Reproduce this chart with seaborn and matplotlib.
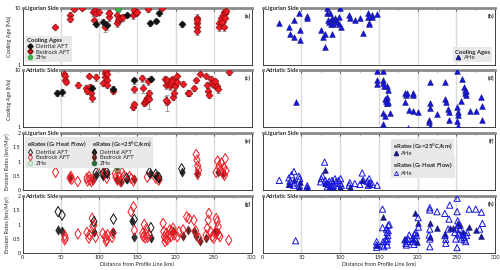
import numpy as np
import pandas as pd
import seaborn as sns
import matplotlib.pyplot as plt
from matplotlib.lines import Line2D
from matplotlib.ticker import LogLocator, NullFormatter, MultipleLocator, FixedLocator

sns.set_theme(style="white")
plt.rcParams['font.family'] = ['Lato', 'DejaVu Sans']
plt.rcParams['font.size'] = 3.8
plt.rcParams['mathtext.default'] = 'regular'

# ---------------- Panel (a) Ligurian cooling ages ----------------
a_det_x = [96.2, 105.7, 110.0, 136.5, 165.9, 174.2, 178.5, 208.0]
a_det_y = [5.2, 5.7, 5.0, 7.5, 5.4, 6.0, 8.1, 5.2]
a_det_err = [0.5, 0.8, 0.9, 0.6, 0.5, 0.5, 0.7, 0.5]
a_bed_x = [42.9, 62.4, 62.4, 66.7, 77.5, 91.8, 93.1, 94.9, 96.2, 99.2, 108.3, 112.6, 113.5, 112.6,
           123.0, 123.9, 124.8, 126.5, 129.1, 130.8, 143.8, 146.0, 148.2, 149.5, 163.8, 182.0,
           227.5, 228.4, 228.4, 227.5, 228.4, 256.6, 257.4, 260.0, 260.9, 261.8, 263.1, 264.4,
           265.3, 263.6, 266.2]
a_bed_y = [4.7, 7.55, 6.4, 9.6, 9.9, 8.6, 6.3, 9.2, 8.1, 8.6, 4.7, 8.1, 6.9, 8.3,
           5.4, 7.55, 6.15, 6.6, 6.6, 6.9, 7.55, 9.2, 8.3, 8.6, 9.6, 9.9,
           6.6, 5.5, 4.7, 3.95, 6.15, 5.4, 4.7, 6.6, 5.75, 7.55, 8.6, 8.3,
           6.6, 4.7, 9.0]
a_bed_err = [0.4, 1.0, 0.8, 0.7, 0.6, 1.2, 1.0, 1.1, 0.9, 1.0, 0.9, 1.0, 0.9, 1.0,
             0.8, 1.6, 1.2, 0.9, 0.9, 0.9, 1.0, 1.0, 1.0, 0.9, 0.9, 0.8,
             1.4, 1.2, 1.0, 0.6, 1.2, 0.9, 0.8, 1.0, 1.0, 1.1, 1.0, 1.0,
             1.0, 0.8, 1.0]
a_zhe_x = [124.8]
a_zhe_y = [9.5]
a_zhe_err = [0.8]

# ---------------- Panel (b) Ligurian AHe ----------------
b_x = [21.4, 33.9, 35.2, 40.3, 40.3, 46.8, 47.7, 47.7, 57.5, 57.5, 74.7, 78.2, 79.9, 80.3,
       82.9, 82.9, 83.7, 85.0, 86.8, 87.6, 88.5, 89.4, 89.4, 90.2, 93.2, 94.5, 96.2, 97.9,
       98.8, 100.1, 100.5, 111.6, 112.5, 118.9, 125.4, 128.8, 135.3, 136.1, 136.6, 137.4,
       140.4, 141.3, 147.7]
b_y = [5.4, 4.6, 3.45, 6.15, 3.14, 8.25, 4.2, 2.74, 7.3, 6.8, 4.2, 3.06, 3.45, 2.04,
       9.9, 8.1, 6.15, 5.75, 8.1, 6.15, 5.25, 6.6, 3.5, 5.25, 6.6, 6.15, 5.7, 7.0,
       5.25, 9.9, 4.7, 7.55, 6.6, 6.15, 6.6, 3.7, 8.1, 7.0, 5.4, 5.25,
       7.55, 7.0, 7.75]

# ---------------- Panel (c) Adriatic cooling ages ----------------
c_det_x = [45.0, 51.5, 91.0, 117.8, 146.0, 167.7]
c_det_y = [4.1, 4.2, 4.9, 4.8, 6.7, 7.2]
c_det_err = [0.5, 0.6, 0.7, 0.6, 0.8, 0.7]
c_bed_x = [54.0, 55.0, 55.0, 56.0, 72.3, 83.2, 84.5, 86.6, 88.4, 89.7, 91.0, 96.2, 104.8,
           107.4, 108.3, 109.2, 110.0, 110.9, 110.0, 117.8, 143.8, 145.6, 146.0, 156.0,
           156.8, 159.0, 160.3, 161.2, 162.5, 163.8, 164.7, 165.6, 163.8, 186.0, 187.2,
           188.5, 189.4, 187.2, 191.5, 192.4, 193.7, 195.0, 195.9, 196.7, 198.0, 199.4,
           202.4, 202.4, 210.0, 215.8, 217.5, 224.0, 226.3, 231.5, 240.0, 241.4, 242.3,
           243.6, 247.0, 247.7, 250.0, 252.2, 254.4, 255.7, 269.6]
c_bed_y = [8.8, 7.9, 6.9, 6.4, 5.6, 4.9, 4.45, 8.1, 5.1, 4.1, 3.25, 7.6, 6.0,
           7.7, 9.1, 9.9, 6.7, 8.5, 5.6, 4.3, 2.3, 2.55, 4.7, 7.4,
           4.9, 2.65, 2.83, 3.03, 3.25, 3.48, 4.0, 3.12, 6.45, 7.1, 5.6,
           2.83, 6.7, 3.03, 5.8, 5.25, 5.9, 7.1, 6.45, 3.48, 4.0, 5.25,
           7.9, 6.2, 5.9, 4.1, 4.1, 4.9, 6.7, 8.8, 8.1, 5.6, 4.3,
           3.73, 7.1, 6.0, 5.6, 6.45, 5.25, 4.7, 9.3]
c_bed_err = [0.8, 0.8, 0.7, 0.6, 0.7, 0.6, 0.6, 0.7, 0.6, 0.5, 0.4, 1.0, 0.6,
             0.8, 0.9, 0.9, 0.8, 0.8, 0.6, 0.5, 0.25, 0.3, 0.6, 1.0,
             0.9, 0.3, 0.35, 0.4, 0.5, 0.5, 0.6, 1.0, 0.8, 0.8, 0.8,
             0.9, 0.8, 0.6, 0.7, 0.7, 0.8, 0.7, 0.8, 0.4, 0.5, 0.6,
             0.9, 0.7, 0.6, 0.5, 0.5, 0.5, 0.7, 0.6, 0.7, 0.7, 0.6,
             0.5, 0.8, 0.8, 0.7, 0.7, 0.7, 0.7, 1.0]

# ---------------- Panel (d) Adriatic AHe ----------------
d_x = [42.5, 147.3, 147.3, 147.3, 154.6, 154.6, 155.4, 156.3, 161.0, 161.5, 160.6, 162.0,
       159.8, 157.7, 159.0, 161.0, 155.4, 157.7, 155.4, 164.5, 183.4, 185.5, 186.4, 184.0,
       193.3, 194.1, 189.0, 194.1, 200.3, 188.0, 215.6, 215.6, 215.6, 214.8, 214.8, 215.6,
       225.0, 235.0, 235.3, 236.2, 238.8, 241.0, 241.0, 250.8, 250.8, 251.7, 252.0, 250.8,
       252.6, 255.5, 257.7, 259.4, 260.7, 261.6, 262.0, 262.9, 267.2, 275.8, 281.4, 283.5,
       283.5]
d_y = [2.8, 9.7, 6.9, 5.9, 9.7, 6.9, 6.0, 5.25, 5.4, 4.6, 3.4, 2.8,
       2.65, 3.1, 2.9, 2.65, 1.8, 1.57, 1.13, 1.76, 4.0, 3.7, 4.0, 2.8,
       4.0, 3.7, 2.0, 1.95, 1.88, 0.98, 6.2, 2.72, 2.16, 1.37, 1.25, 1.01,
       1.69, 6.2, 3.1, 2.85, 2.07, 1.88, 1.33, 9.9, 2.3, 1.88, 1.64, 1.28,
       1.04, 2.95, 7.2, 5.1, 4.5, 4.0, 3.7, 4.3, 1.95, 1.95, 3.4, 2.4,
       1.33]

# ---------------- Panel (e) Ligurian erosion rates ----------------
e_bed_hf_x = [43, 62, 63, 64, 72, 84, 85, 87, 88, 90, 92, 104, 107, 110, 121, 122, 124, 126,
              128, 130, 132, 140, 142, 145, 163, 174, 178, 227, 228, 229, 230, 229, 253, 255,
              257, 259, 260, 262, 263, 265, 266, 264]
e_bed_hf_y = [0.62, 0.42, 0.48, 0.38, 0.3, 0.42, 0.32, 0.48, 0.36, 0.3, 0.38, 0.75, 0.6, 0.42,
              0.58, 0.45, 0.35, 0.52, 0.3, 0.62, 0.48, 0.48, 0.4, 0.32, 0.45, 0.42, 0.35, 1.25,
              1.05, 0.85, 0.7, 0.55, 0.62, 1.02, 0.85, 0.7, 0.95, 0.6, 0.78, 1.1, 0.68, 0.52]
e_det_hf_x = [96, 105, 110, 136, 166, 174, 178, 208]
e_det_hf_y = [0.62, 0.58, 0.63, 0.42, 0.62, 0.55, 0.45, 0.75]
e_det_g_x = [96, 105, 110, 136, 166, 174, 178, 208]
e_det_g_y = [0.52, 0.5, 0.55, 0.38, 0.55, 0.48, 0.38, 0.62]
e_bed_g_x = [62, 92, 107, 124, 128, 146, 228, 255, 262]
e_bed_g_y = [0.42, 0.35, 0.55, 0.4, 0.3, 0.38, 0.6, 0.62, 0.58]
e_zhe_hf_x = [124]
e_zhe_hf_y = [0.75]
e_zhe_g_x = [124]
e_zhe_g_y = [0.7]

# ---------------- Panel (f) Ligurian AHe erosion rates ----------------
f_hf_x = [21.4, 33.9, 35.2, 34.5, 37.3, 40.3, 40.7, 39.9, 46.8, 47.7, 47.3, 57.5, 57.5,
          74.7, 75.6, 77.3, 79.9, 80.8, 82.5, 83.3, 85.0, 85.9, 87.6, 89.4, 90.2, 91.1, 93.2,
          94.5, 96.2, 97.9, 99.7, 100.5, 101.4, 111.6, 112.5, 118.9, 125.4, 128.4, 129.7,
          134.8, 136.1, 137.4, 138.3, 141.3, 147.7]
f_hf_y = [0.34, 0.43, 0.31, 0.2, 0.54, 0.65, 0.25, 0.17, 0.49, 0.4, 0.15, 0.15, 0.08,
          0.29, 0.4, 0.49, 0.98, 0.34, 0.23, 0.11, 0.2, 0.31, 0.11, 0.34, 0.26, 0.15, 0.4,
          0.29, 0.08, 0.34, 0.23, 0.4, 0.17, 0.17, 0.26, 0.23, 0.2, 0.6, 0.34,
          0.31, 0.17, 0.4, 0.26, 0.2, 0.17]
f_g_x = [34.5, 40.7, 46.8, 47.7, 57.5, 79.9, 80.8, 85.0, 91.1, 99.7, 112.5, 128.4, 137.4]
f_g_y = [0.2, 0.34, 0.11, 0.29, 0.06, 0.71, 0.26, 0.11, 0.08, 0.11, 0.11, 0.34, 0.23]

# ---------------- Panel (g) Adriatic erosion rates ----------------
g_det_hf_x = [46.3, 51.5, 93.2, 118.7, 146.0, 167.7]
g_det_hf_y = [1.45, 1.33, 1.1, 1.19, 1.18, 0.89]
g_det_g_x = [46.3, 51.5, 93.2, 118.7, 142.5, 146.0, 167.7]
g_det_g_y = [0.8, 0.78, 0.72, 0.75, 1.12, 0.55, 0.52]
g_bed_hf_x = [55.0, 55.7, 55.0, 72.3, 84.0, 86.6, 87.4, 91.0, 91.8, 93.1, 95.3,
              104.8, 108.3, 109.2, 110.0, 110.9, 117.0, 117.8, 141.7, 144.9, 146.0,
              157.0, 157.8, 159.1, 160.3, 161.2, 162.1, 163.4, 165.6,
              183.7, 184.6, 185.4, 186.3, 187.2, 188.0, 189.4, 191.5, 192.4, 193.7, 195.0,
              196.7, 198.0, 202.4, 204.6, 209.8, 214.5, 217.6, 224.0, 226.3, 230.5,
              240.0, 241.4, 242.7, 243.6, 245.8, 248.0, 250.0, 251.5, 253.2, 254.5, 255.8,
              256.6, 258.0, 269.6]
g_bed_hf_y = [0.61, 0.52, 0.46, 0.67, 0.72, 0.52, 0.64, 1.22, 0.93, 0.98, 0.55,
              0.69, 0.58, 0.41, 0.47, 0.64, 0.55, 0.69, 1.45, 1.62, 0.8,
              0.69, 0.58, 1.0, 0.53, 0.66, 0.86, 0.55, 0.64,
              1.04, 0.75, 0.57, 0.4, 0.52, 0.69, 0.46, 0.63, 0.81, 0.57, 0.75,
              0.87, 0.63, 0.57, 0.75, 0.81, 1.27, 1.21, 1.15, 0.78, 0.52,
              0.63, 0.87, 1.15, 1.39, 0.75, 0.57, 0.52, 0.69, 1.21, 1.1, 0.93,
              0.65, 0.57, 0.45]
g_bed_g_x = [196.0, 209.8, 216.0, 224.0, 226.3, 232.0, 240.0, 252.0, 254.5]
g_bed_g_y = [0.78, 0.6, 0.8, 0.78, 0.6, 0.43, 0.52, 0.78, 0.72]

# ---------------- Panel (h) Adriatic AHe erosion rates ----------------
h_hf_x = [42.5, 147.0, 147.0, 147.0, 154.6, 154.6, 155.4, 154.6, 156.3,
          159.8, 160.6, 161.5, 159.0, 159.8, 160.6, 162.0, 163.3, 162.0, 161.0,
          183.4, 184.7, 185.5, 186.4, 187.7, 189.0, 193.3, 194.1, 195.0, 195.9, 197.1, 197.6,
          198.5, 200.6, 201.0,
          215.6, 215.6, 215.6, 214.8, 215.6, 215.6, 225.0, 235.0, 235.0, 236.2, 236.2, 239.2,
          241.3, 240.4,
          247.8, 249.1, 250.0, 250.8, 250.8, 250.8, 251.7, 252.1, 253.0, 254.3, 255.1, 256.4,
          258.5, 259.8, 260.7, 262.0, 262.9, 263.7, 266.3, 274.9, 280.0, 282.2, 283.5]
h_hf_y = [0.43, 0.4, 0.28, 0.2, 1.54, 0.89, 0.4, 0.28, 0.22,
          0.84, 0.72, 0.61, 0.49, 0.4, 0.28, 0.98, 1.0, 0.78, 0.49,
          0.46, 0.34, 0.28, 0.4, 0.49, 0.63, 0.49, 0.4, 0.3, 0.67, 0.46, 0.72,
          0.61, 1.24, 0.91,
          1.59, 1.51, 0.84, 0.63, 0.49, 0.22, 1.45, 1.39, 0.61, 0.48, 0.34, 0.84,
          1.68, 1.19,
          0.72, 0.49, 0.84, 1.92, 1.45, 0.19, 1.13, 0.96, 0.67, 0.84, 0.63, 0.49,
          0.67, 0.55, 0.46, 0.4, 0.61, 0.72, 1.54, 1.54, 0.84, 1.43, 1.04]
h_g_x = [147.0, 154.6, 183.4, 194.1, 196.3, 198.5, 200.6, 215.6, 215.6, 225.0, 235.0,
         241.3, 245.5, 252.1, 254.3, 258.5, 266.3, 274.9, 282.2]
h_g_y = [0.28, 1.25, 0.49, 0.49, 1.39, 0.4, 1.04, 1.07, 0.55, 0.87, 0.67,
         0.87, 0.87, 1.07, 0.98, 0.75, 0.92, 0.79, 0.6]

# ---------------- colours ----------------
RED = '#ee1c24'
RED_EDGE = '#7a0000'
BLK = '#111111'
GRN = '#3cb34a'
BLUE = '#1515e0'
NAVY = '#1a1a80'
DRED = '#6b2424'
DGRN = '#2f6b3a'
LGRN = '#7fd08a'
GRID = '#dadada'
LEGBG = '#e8e8e8'

FS_TICK = 4.0
FS_LAB = 4.0
FS_SIDE = 4.2
FS_LEG = 4.2
FS_TTL = 4.3

fig = plt.figure(figsize=(5, 2.7), dpi=100)
Lx, Lw = 0.0454, 0.4586
Rx, Rw = 0.5254, 0.465
rows = [0.759, 0.528, 0.296, 0.063]
H = 0.211
axes = {}
for i, (ll, rr) in enumerate([('a', 'b'), ('c', 'd'), ('e', 'f'), ('g', 'h')]):
    axes[ll] = fig.add_axes([Lx, rows[i], Lw, H])
    axes[rr] = fig.add_axes([Rx, rows[i], Rw, H])


def style(ax, label, side, log, bottom, left):
    ax.set_xlim(0, 300)
    if log:
        ax.set_yscale('log')
        ax.set_ylim(1, 10)
        ax.yaxis.set_major_locator(FixedLocator([1, 10]))
        ax.set_yticklabels(['1', '10'])
        ax.yaxis.set_minor_locator(LogLocator(subs=range(2, 10)))
        ax.yaxis.set_minor_formatter(NullFormatter())
    else:
        ax.set_ylim(0, 2)
        ax.set_yticks([0, 0.5, 1, 1.5, 2])
        ax.set_yticklabels(['0', '0.5', '1', '1.5', '2'])
        ax.yaxis.set_minor_locator(MultipleLocator(0.25))
    ax.set_xticks(range(0, 301, 50))
    ax.xaxis.set_minor_locator(MultipleLocator(25))
    for gx in [50, 100, 150, 200, 250]:
        ax.axvline(gx, color=GRID, lw=1.0, zorder=0)
    ax.tick_params(which='major', direction='in', length=2.2, width=0.5, top=True,
                   labelsize=FS_TICK, pad=1.5, colors='#222222')
    ax.tick_params(which='minor', direction='in', length=1.2, width=0.4, top=True)
    if not bottom:
        ax.set_xticklabels([])
    else:
        ax.set_xlabel('Distance from Profile Line (km)', fontsize=FS_LAB, labelpad=1)
    if not left:
        ax.set_yticklabels([])
    for s in ['left', 'right', 'bottom']:
        ax.spines[s].set_linewidth(0.6)
        ax.spines[s].set_color('#222222')
    ax.spines['top'].set_linewidth(2.0)
    ax.spines['top'].set_color('#8a8a8a')
    ax.text(0.012, 1.0, side, transform=ax.transAxes, fontweight='bold', fontsize=FS_SIDE,
            va='center', ha='left', zorder=10,
            bbox=dict(facecolor='white', edgecolor='none', pad=0.4))
    ax.text(0.995, 0.86, '(' + label + ')', transform=ax.transAxes, fontweight='bold',
            fontsize=FS_SIDE, va='center', ha='right')
    ax.set_facecolor('white')


def errs(ax, x, y, e):
    ax.errorbar(x, y, yerr=e, fmt='none', ecolor='#8f8f8f', elinewidth=0.6,
                capsize=1.3, capthick=0.6, zorder=2)


def pts(ax, x, y, marker, face, edge, s, lw=0.4, z=3):
    sns.scatterplot(x=x, y=y, ax=ax, marker=marker, s=s, color=edge if face == 'none' else face,
                    facecolor=face, edgecolor=edge, linewidth=lw, zorder=z, legend=False)


def mklegend(ax, handles, labels, title, loc, anchor):
    lg = ax.legend(handles, labels, title=title, loc=loc, bbox_to_anchor=anchor,
                   fontsize=FS_LEG, title_fontsize=FS_TTL, frameon=True, facecolor=LEGBG,
                   edgecolor='none', framealpha=1, fancybox=False, handlelength=1.0,
                   handletextpad=0.5, labelspacing=0.1, borderpad=0.35, borderaxespad=0.0)
    lg.get_title().set_fontweight('bold')
    lg._legend_box.align = 'left'
    ax.add_artist(lg)
    return lg


def axes_bbox(ax, artist):
    fig.canvas.draw()
    bb = artist.get_window_extent().transformed(ax.transAxes.inverted())
    return bb


# ---- (a)
ax = axes['a']
errs(ax, a_bed_x, a_bed_y, a_bed_err)
errs(ax, a_det_x, a_det_y, a_det_err)
errs(ax, a_zhe_x, a_zhe_y, a_zhe_err)
pts(ax, a_bed_x, a_bed_y, 'D', RED, RED_EDGE, 13)
pts(ax, a_det_x, a_det_y, 'D', BLK, BLK, 13)
pts(ax, a_zhe_x, a_zhe_y, 'o', GRN, '#1d6b27', 18)
style(ax, 'a', 'Ligurian Side', True, False, True)
ax.set_ylabel('Cooling Age (Ma)', fontsize=FS_LAB, labelpad=2)
h = [Line2D([], [], marker='D', ls='none', color=BLK, markersize=2.6),
     Line2D([], [], marker='D', ls='none', color=RED, markeredgecolor=RED_EDGE, markersize=2.6),
     Line2D([], [], marker='o', ls='none', color=GRN, markersize=3.0)]
mklegend(ax, h, ['Detrital AFT', 'Bedrock AFT', 'ZHe'], 'Cooling Ages', 'lower left', (0.012, 0.05))

# ---- (b)
ax = axes['b']
pts(ax, b_x, b_y, '^', BLUE, NAVY, 17)
style(ax, 'b', 'Ligurian Side', True, False, False)
h = [Line2D([], [], marker='^', ls='none', color=BLUE, markeredgecolor=NAVY, markersize=3.0)]
mklegend(ax, h, ['AHe'], 'Cooling Ages', 'lower right', (0.988, 0.05))

# ---- (c)
ax = axes['c']
errs(ax, c_bed_x, c_bed_y, c_bed_err)
errs(ax, c_det_x, c_det_y, c_det_err)
pts(ax, c_bed_x, c_bed_y, 'D', RED, RED_EDGE, 13)
pts(ax, c_det_x, c_det_y, 'D', BLK, BLK, 13)
style(ax, 'c', 'Adriatic Side', True, False, True)
ax.set_ylabel('Cooling Age (Ma)', fontsize=FS_LAB, labelpad=2)

# ---- (d)
ax = axes['d']
pts(ax, d_x, d_y, '^', BLUE, NAVY, 17)
style(ax, 'd', 'Adriatic Side', True, False, False)

# ---- (e)
ax = axes['e']
pts(ax, e_bed_g_x, e_bed_g_y, 'd', DRED, DRED, 22, z=3)
pts(ax, e_det_g_x, e_det_g_y, 'd', '#333333', BLK, 22, z=3)
pts(ax, e_zhe_g_x, e_zhe_g_y, 'o', DGRN, DGRN, 14, z=3)
pts(ax, e_bed_hf_x, e_bed_hf_y, 'd', 'none', RED, 28, lw=0.7, z=4)
pts(ax, e_det_hf_x, e_det_hf_y, 'd', 'none', BLK, 28, lw=0.7, z=4)
pts(ax, e_zhe_hf_x, e_zhe_hf_y, 'o', 'none', LGRN, 16, lw=0.7, z=4)
style(ax, 'e', 'Ligurian Side', False, False, True)
ax.set_ylabel('Erosion Rates (km/Myr)', fontsize=FS_LAB, labelpad=2)
h1 = [Line2D([], [], marker='d', ls='none', markerfacecolor='none', markeredgecolor=BLK, markersize=3.4, mew=0.6),
      Line2D([], [], marker='d', ls='none', markerfacecolor='none', markeredgecolor=RED, markersize=3.4, mew=0.6),
      Line2D([], [], marker='o', ls='none', markerfacecolor='none', markeredgecolor=LGRN, markersize=3.0, mew=0.6)]
lg1 = mklegend(ax, h1, ['Detrital AFT', 'Bedrock AFT', 'ZHe'], 'eRates (G$_t$ Heat Flow)',
               'upper left', (0.012, 0.93))
bb = axes_bbox(ax, lg1)
h2 = [Line2D([], [], marker='d', ls='none', color='#333333', markeredgecolor=BLK, markersize=3.4),
      Line2D([], [], marker='d', ls='none', color=DRED, markersize=3.4),
      Line2D([], [], marker='o', ls='none', color=DGRN, markersize=3.0)]
mklegend(ax, h2, ['Detrital AFT', 'Bedrock AFT', 'ZHe'], 'eRates (G$_0$=25°C/km)',
         'upper left', (bb.x1, 0.93))

# ---- (f)
ax = axes['f']
pts(ax, f_g_x, f_g_y, '^', NAVY, NAVY, 17, z=3)
pts(ax, f_hf_x, f_hf_y, '^', 'none', BLUE, 20, lw=0.7, z=4)
style(ax, 'f', 'Ligurian Side', False, False, False)
h1 = [Line2D([], [], marker='^', ls='none', color=NAVY, markersize=3.0)]
lgf1 = mklegend(ax, h1, ['AHe'], 'eRates (G$_0$=25°C/km)', 'upper left', (0.55, 0.9))
bb = axes_bbox(ax, lgf1)
h2 = [Line2D([], [], marker='^', ls='none', markerfacecolor='none', markeredgecolor=BLUE, markersize=3.0, mew=0.6)]
mklegend(ax, h2, ['AHe'], 'eRates (G$_t$ Heat Flow)', 'upper left', (0.55, bb.y0))

# ---- (g)
ax = axes['g']
pts(ax, g_bed_g_x, g_bed_g_y, 'd', DRED, DRED, 22, z=3)
pts(ax, g_det_g_x, g_det_g_y, 'd', '#333333', BLK, 22, z=3)
pts(ax, g_bed_hf_x, g_bed_hf_y, 'd', 'none', RED, 28, lw=0.7, z=4)
pts(ax, g_det_hf_x, g_det_hf_y, 'd', 'none', BLK, 28, lw=0.7, z=4)
style(ax, 'g', 'Adriatic Side', False, True, True)
ax.set_ylabel('Erosion Rates (km/Myr)', fontsize=FS_LAB, labelpad=2)

# ---- (h)
ax = axes['h']
pts(ax, h_g_x, h_g_y, '^', NAVY, NAVY, 17, z=3)
pts(ax, h_hf_x, h_hf_y, '^', 'none', BLUE, 20, lw=0.7, z=4)
style(ax, 'h', 'Adriatic Side', False, True, False)

fig.savefig('out.png', dpi=100)
